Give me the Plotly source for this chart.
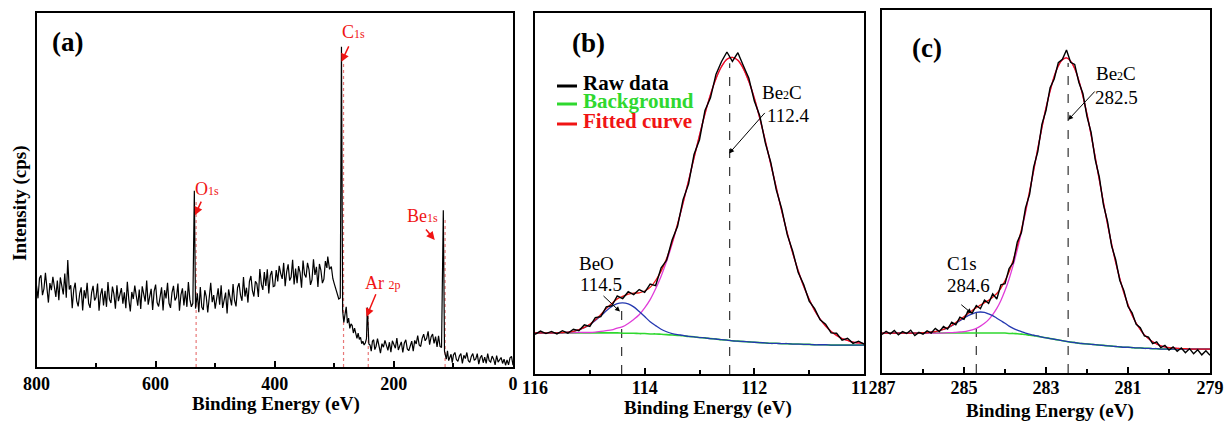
import plotly.graph_objects as go

FONT = "Liberation Serif"

# ---------------- Panel (a): survey spectrum (binding energy, intensity) ----------------
survey_a = [
    (800, 23.0), (797.5, 19.4), (795, 25.1), (792.5, 25.9), (790, 20.3), (787.5, 22.1), (785, 26.6),
    (782.5, 21.5), (780, 18.2), (777.5, 23.7), (775, 21.7), (772.5, 25.5), (770, 22.7), (767.5, 19.8),
    (765, 24.4), (762.5, 18.9), (760, 25.3), (757.5, 22.9), (755, 20.5), (752.5, 26.4), (750, 19.6),
    (747.5, 30.2), (745, 21.9), (742.5, 23.1), (740, 16.6), (737.5, 21.9), (735, 23.8), (732.5, 18.7),
    (730, 17.1), (727.5, 20.7), (725, 22.5), (722.5, 16.0), (720, 21.7), (717.5, 19.4), (715, 23.8),
    (712.5, 18.0), (710, 16.7), (707.5, 21.0), (705, 22.9), (702.5, 18.8), (700, 19.7), (697.5, 23.6),
    (695, 15.9), (692.5, 20.4), (690, 22.2), (687.5, 17.4), (685, 21.5), (682.5, 17.0), (680, 24.0),
    (677.5, 19.1), (675, 18.1), (672.5, 22.7), (670, 20.6), (667.5, 16.5), (665, 23.1), (662.5, 18.6),
    (660, 20.1), (657.5, 22.3), (655, 17.9), (652.5, 21.1), (650, 16.6), (647.5, 24.1), (645, 19.0),
    (642.5, 15.7), (640, 21.2), (637.5, 19.2), (635, 23.0), (632.5, 20.2), (630, 17.3), (627.5, 21.9),
    (625, 16.4), (622.5, 22.8), (620, 20.9), (617.5, 18.5), (615, 24.4), (612.5, 17.6), (610, 19.9),
    (607.5, 22.1), (605, 16.1), (602.5, 21.4), (600, 23.3), (597.5, 18.2), (595, 17.1), (592.5, 20.7),
    (590, 22.5), (587.5, 16.0), (585, 21.7), (582.5, 19.4), (580, 23.8), (577.5, 18.0), (575, 16.7),
    (572.5, 21.0), (570, 22.9), (567.5, 18.8), (565, 19.7), (562.5, 23.6), (560, 15.9), (557.5, 20.4),
    (555, 22.2), (552.5, 17.4), (550, 21.5), (547.5, 17.0), (545, 24.0), (542.5, 19.1), (540, 17.0),
    (537.5, 18.0), (535, 49.8), (533, 16.5), (530, 20.8), (527.5, 15.5), (525, 22.6), (522.5, 16.9),
    (520, 16.1), (517.5, 21.7), (515, 19.9), (512.5, 15.4), (510, 20.5), (507.5, 23.8), (505, 18.3),
    (502.5, 20.3), (500, 16.5), (497.5, 19.3), (495, 22.2), (492.5, 17.6), (490, 23.1), (487.5, 16.7),
    (485, 18.6), (482.5, 21.0), (480, 15.1), (477.5, 21.9), (475, 19.6), (472.5, 17.4), (470, 23.4),
    (467.5, 18.8), (465, 17.1), (462.5, 22.4), (460, 23.7), (457.5, 20.3), (455, 18.7), (452.5, 25.4),
    (450, 19.9), (447.5, 22.4), (445, 18.2), (442.5, 24.2), (440, 25.7), (437.5, 21.6), (435, 19.9),
    (432.5, 24.2), (430, 23.5), (427.5, 19.8), (425, 27.7), (422.5, 23.4), (420, 21.8), (417.5, 26.8),
    (415, 22.9), (412.5, 27.6), (410, 20.8), (407.5, 25.9), (405, 27.1), (402.5, 22.7), (400, 22.9),
    (397.5, 27.4), (395, 24.2), (392.5, 28.6), (390, 26.4), (387.5, 24.9), (385, 29.4), (382.5, 22.8),
    (380, 26.9), (377.5, 29.0), (375, 24.4), (372.5, 25.4), (370, 30.3), (367.5, 23.3), (365, 27.8),
    (362.5, 23.7), (360, 28.5), (357.5, 26.7), (355, 22.4), (352.5, 30.1), (350, 26.2), (347.5, 25.3),
    (345, 29.4), (342.5, 27.5), (340, 23.2), (337.5, 24.6), (335, 30.4), (332.5, 26.0), (330, 28.3),
    (327.5, 22.6), (325, 29.1), (322.5, 27.3), (320, 23.7), (317.5, 24.8), (315, 29.9), (312.5, 28.0),
    (311, 31.2), (308, 27.6), (305, 28.4), (302.5, 25.0), (300, 23.5), (297.5, 21.9), (295, 21.0),
    (292.5, 19.2), (290, 19.5), (288, 90.5), (286, 15.8), (284, 12.6), (282, 14.9), (280, 17.0),
    (278, 12.4), (276, 13.8), (274, 10.9), (272, 12.2), (270, 11.7), (268, 9.6), (266, 11.0),
    (264, 9.2), (262, 8.1), (260, 9.6), (258, 7.8), (256, 8.4), (254, 6.6), (252, 7.3), (250, 6.2),
    (248, 6.8), (246, 8.0), (244.5, 16.8), (243, 8.5), (242, 6.5), (240, 6.2), (238, 4.5), (236, 7.3),
    (234, 7.7), (232, 4.9), (230, 5.8), (227.5, 8.0), (225, 5.5), (222.5, 3.9), (220, 6.6),
    (217.5, 5.6), (215, 7.5), (212.5, 6.1), (210, 4.7), (207.5, 7.0), (205, 4.2), (202.5, 7.4),
    (200, 6.5), (197.5, 5.3), (195, 8.2), (192.5, 4.8), (190, 6.0), (187.5, 7.1), (185, 4.1),
    (182.5, 6.7), (180, 7.7), (177.5, 5.1), (175, 4.6), (172.5, 6.4), (170, 7.3), (167.5, 4.5),
    (165, 7.5), (162.5, 6.5), (160, 8.9), (157.5, 6.2), (155, 5.8), (152.5, 8.1), (150, 9.3),
    (147.5, 7.4), (145, 8.1), (142.5, 10.1), (140, 6.3), (137.5, 8.5), (135, 9.3), (132.5, 6.7),
    (130, 8.6), (127.5, 5.7), (125, 8.8), (122.5, 5.8), (120, 5.5), (117, 44.3), (115, 4.5),
    (112, 2.2), (110, 4.6), (108, 1.8), (106, 2.8), (104, 3.6), (102, 1.2), (100, 3.4), (97.5, 4.1),
    (95, 2.1), (92.5, 1.6), (90, 3.1), (87.5, 3.8), (85, 1.0), (82.5, 3.3), (80, 2.4), (77.5, 4.1),
    (75, 1.8), (72.5, 1.3), (70, 3.0), (67.5, 3.8), (65, 1.9), (62.5, 2.3), (60, 3.8), (57.5, 0.8),
    (55, 2.6), (52.5, 3.3), (50, 1.2), (47.5, 2.8), (45, 1.0), (42.5, 3.8), (40, 1.8), (37.5, 1.4),
    (35, 3.1), (32.5, 2.2), (30, 0.6), (27.5, 3.2), (25, 1.4), (22.5, 2.0), (20, 2.7), (17.5, 1.0),
    (15, 2.2), (12.5, 0.5), (10, 2.0), (7.5, 0.6), (5, 2.6), (2.5, 3.0), (0, 0.5),
]
be_a = [p[0] for p in survey_a]
int_a = [p[1] for p in survey_a]

# red dotted reference lines at the assigned peaks
peak_be_a = [532, 284.5, 243, 114]
peak_top_a = [47, 86, 15, 42]

# ---------------- Panel (b): Be 1s high resolution ----------------
be_b = [round(116.0 - 0.1 * i, 1) for i in range(61)]
bg_b = [11.4, 11.4, 11.4, 11.4, 11.4, 11.4, 11.4, 11.4, 11.4, 11.4, 11.4, 11.4, 11.4, 11.4, 11.4, 11.4,
        11.3, 11.3, 11.3, 11.2, 11.2, 11.1, 11.1, 11.0, 10.9, 10.8, 10.7, 10.6, 10.4, 10.3, 10.1,
        10.0, 9.8, 9.7, 9.5, 9.4, 9.2, 9.1, 9.0, 8.9, 8.8, 8.7, 8.6, 8.5, 8.5, 8.4, 8.4, 8.3, 8.3,
        8.2, 8.2, 8.1, 8.1, 8.1, 8.0, 8.0, 8.0, 8.0, 8.0, 8.0, 8.0]
be2c_b = [0, 0, 0, 0, 0, 0, 0, 0,
          0.1, 0.1, 0.1, 0.2, 0.4, 0.6, 0.8, 1.3, 1.8, 2.7, 3.8, 5.2, 7.1, 9.5, 12.5, 16.1, 20.3,
          25.2, 30.7, 36.7, 43.1, 49.6, 56.0, 62.1, 67.6, 72.1, 75.6, 77.8, 78.5, 77.8, 75.6, 72.1,
          67.6, 62.1, 56.0, 49.6, 43.1, 36.7, 30.7, 25.2, 20.3, 16.1, 12.5, 9.5, 7.1, 5.2, 3.8, 2.7,
          1.8, 1.3, 0.8, 0.6, 0.4]
beo_b = [0, 0, 0, 0, 0,
         0.1, 0.2, 0.4, 0.8, 1.4, 2.3, 3.4, 4.7, 6.1, 7.3, 8.1, 8.4, 8.1, 7.3, 6.1, 4.7, 3.4, 2.3,
         1.4, 0.8, 0.4, 0.2, 0.1,
         0, 0, 0, 0, 0, 0, 0, 0, 0, 0, 0, 0, 0, 0, 0, 0, 0, 0, 0, 0, 0, 0, 0, 0, 0, 0, 0, 0, 0, 0,
         0, 0, 0]
raw_b = [11.0, 11.9, 11.2, 11.8, 11.1, 12.0, 11.3, 12.4, 12.0, 13.6, 13.2, 15.6, 15.9, 18.6, 18.9,
         21.6, 20.9, 22.8, 22.0, 23.4, 22.6, 24.9, 24.5, 29.4, 31.5, 37.1, 40.9, 48.3, 52.6, 60.8,
         64.9, 73.0, 76.5, 83.0, 86.5, 89.2, 86.6, 89.0, 85.4, 81.9, 75.6, 71.5, 64.0, 58.6, 51.0,
         45.7, 38.6, 34.0, 28.1, 24.8, 20.2, 18.1, 15.0, 13.8, 11.4, 11.3, 9.4, 9.9, 8.5, 9.1, 8.3]
dash_be_b = [114.42, 112.45]
dash_top_b = [19.7, 86.1]
ticks_b = [116, 114, 112, 110]
ticklabels_b = ["116", "114", "112", "11\u2007"]   # the "110" label is cut by panel (c) in the original

# ---------------- Panel (c): C 1s high resolution ----------------
be_c = [round(287.0 - 0.1 * i, 1) for i in range(81)]
bg_c = [11.0] * 31 + [10.9, 10.9, 10.8, 10.7, 10.6, 10.4, 10.3, 10.1, 9.9, 9.7, 9.5, 9.3, 9.1, 8.9,
                      8.7, 8.5, 8.4, 8.2, 8.1, 8.0, 7.9, 7.8, 7.7, 7.6, 7.5, 7.4, 7.3, 7.2, 7.1,
                      7.1, 7.0, 6.9, 6.9, 6.8, 6.8, 6.7, 6.7, 6.6, 6.6] + [6.6] * 11
be2c_c = [0, 0, 0, 0, 0, 0, 0, 0, 0, 0, 0, 0, 0, 0, 0,
          0, 0.1, 0.1, 0.2, 0.3, 0.4, 0.6, 0.9, 1.3, 1.9, 2.7, 3.7, 5.1, 6.8, 9.0, 11.7, 15.0, 18.8,
          23.2, 28.1, 33.6, 39.4, 45.5, 51.7, 57.7, 63.3, 68.2, 72.4, 75.5, 77.4, 78.1, 77.4, 75.5,
          72.4, 68.2, 63.3, 57.7, 51.7, 45.5, 39.4, 33.6, 28.1, 23.2, 18.8, 15.0, 11.7, 9.0, 6.8,
          5.1, 3.7, 2.7, 1.9, 1.3, 0.9, 0.6, 0.4, 0.3, 0.2, 0.1, 0.1,
          0, 0, 0, 0, 0, 0]
c1s_c = [0, 0, 0, 0, 0, 0, 0, 0, 0, 0,
         0.1, 0.1, 0.3, 0.4, 0.7, 1.0, 1.4, 2.0, 2.7, 3.4, 4.1, 4.8, 5.3, 5.7, 5.8, 5.7, 5.3, 4.8,
         4.1, 3.4, 2.7, 2.0, 1.4, 1.0, 0.7, 0.4, 0.3, 0.1, 0.1] + [0] * 42
raw_c = [10.6, 11.5, 10.8, 11.7, 10.5, 11.4, 10.9, 11.8, 10.3, 11.2, 10.7, 11.6, 11.0, 12.3, 11.4,
         12.8, 12.1, 14.0, 13.3, 15.4, 14.8, 17.1, 16.5, 18.6, 17.7, 20.1, 19.2, 21.8, 20.4, 24.3,
         24.6, 28.8, 30.4, 36.1, 38.7, 45.5, 49.2, 56.8, 61.0, 68.5, 72.3, 78.6, 81.0, 85.5, 86.4,
         89.0, 85.6, 85.0, 80.1, 77.0, 70.6, 66.3, 58.8, 54.0, 46.4, 41.8, 35.0, 31.2, 25.5, 22.7,
         18.3, 16.6, 13.4, 12.5, 10.2, 9.9, 8.1, 8.6, 7.0, 7.6, 6.3, 7.2, 6.0, 6.9, 5.6, 6.7, 5.3,
         6.4, 5.0, 6.1, 4.9]
dash_be_c = [284.7, 282.46]
dash_top_c = [16.5, 85.4]

# ---------------- colours ----------------
GREEN = "#2fd82f"
RED = "#f01414"
MAGENTA = "#e03cd8"
BLUE = "#2438b0"
DOTRED = "#e87878"

fig = go.Figure()

# panel (a)
for bx, top in zip(peak_be_a, peak_top_a):
    fig.add_trace(go.Scatter(x=[bx, bx], y=[0, top], mode="lines",
                             line=dict(color=DOTRED, width=1.2, dash="dot"),
                             xaxis="x", yaxis="y", showlegend=False, hoverinfo="skip"))
fig.add_trace(go.Scatter(x=be_a, y=int_a, mode="lines", line=dict(color="black", width=1.2),
                         xaxis="x", yaxis="y", showlegend=False))


def add_fit_panel(be, bg, comp_main, comp_small, raw, dash_be, dash_top, xa, ya):
    magenta = [b + m for b, m in zip(bg, comp_main)]
    blue = [b + s for b, s in zip(bg, comp_small)]
    fit = [b + m + s for b, m, s in zip(bg, comp_main, comp_small)]
    for bx, top in zip(dash_be, dash_top):
        fig.add_trace(go.Scatter(x=[bx, bx], y=[0, top], mode="lines",
                                 line=dict(color="#333333", width=1.2, dash="dash"),
                                 xaxis=xa, yaxis=ya, showlegend=False, hoverinfo="skip"))
    fig.add_trace(go.Scatter(x=be, y=bg, mode="lines", line=dict(color=GREEN, width=1.6, shape="spline"),
                             xaxis=xa, yaxis=ya, showlegend=False))
    fig.add_trace(go.Scatter(x=be, y=magenta, mode="lines", line=dict(color=MAGENTA, width=1.3, shape="spline"),
                             xaxis=xa, yaxis=ya, showlegend=False))
    fig.add_trace(go.Scatter(x=be, y=blue, mode="lines", line=dict(color=BLUE, width=1.3, shape="spline"),
                             xaxis=xa, yaxis=ya, showlegend=False))
    fig.add_trace(go.Scatter(x=be, y=fit, mode="lines", line=dict(color=RED, width=1.3, shape="spline"),
                             xaxis=xa, yaxis=ya, showlegend=False))
    fig.add_trace(go.Scatter(x=be, y=raw, mode="lines", line=dict(color="black", width=1.4),
                             xaxis=xa, yaxis=ya, showlegend=False))


add_fit_panel(be_b, bg_b, be2c_b, beo_b, raw_b, dash_be_b, dash_top_b, "x2", "y2")
add_fit_panel(be_c, bg_c, be2c_c, c1s_c, raw_c, dash_be_c, dash_top_c, "x3", "y3")

W, H = 1225, 421
tickfont = dict(family=FONT, size=18, color="black", weight="bold")


def xax(domain, rng, dtick, standoff=0, tick0=0, ticktext=None, tickvals=None):
    d = dict(domain=domain, range=rng, showline=True, linecolor="black", linewidth=2, mirror=True,
             ticks="inside", ticklen=6, tickwidth=1.5, tickcolor="black", dtick=dtick, tick0=tick0,
             showgrid=False, zeroline=False, tickfont=tickfont, automargin=False,
             ticklabelstandoff=standoff,
             minor=dict(ticks="inside", ticklen=4, tickwidth=1.5, tickcolor="black", dtick=dtick / 2,
                        tick0=tick0, showgrid=False))
    if tickvals is not None:
        d["tickmode"] = "array"
        d["tickvals"] = tickvals
        d["ticktext"] = ticktext
    return d


def yax(domain, anchor):
    return dict(domain=domain, range=[0, 100], showline=True, linecolor="black", linewidth=2, mirror=True,
                ticks="", showticklabels=False, showgrid=False, zeroline=False, anchor=anchor,
                automargin=False)


fig.update_layout(
    template="none",
    width=W, height=H, margin=dict(l=0, r=0, t=0, b=0, autoexpand=False),
    paper_bgcolor="white", plot_bgcolor="white", showlegend=False,
    xaxis=dict(**xax([36.5 / W, 513 / W], [800, 0], 200, standoff=-1), anchor="y"),
    yaxis=yax([(H - 367) / H, (H - 13) / H], "x"),
    xaxis2=dict(**xax([535 / W, 864 / W], [116, 110], 2, standoff=-4, tickvals=ticks_b,
                      ticktext=ticklabels_b), anchor="y2"),
    yaxis2=yax([(H - 374) / H, (H - 13) / H], "x2"),
    xaxis3=dict(**xax([882 / W, 1210 / W], [287, 279], 2, standoff=-3, tick0=279), anchor="y3"),
    yaxis3=yax([(H - 373) / H, (H - 10) / H], "x3"),
)

ann = []


def txt(x, y, text, size=19, color="black", xref="x", yref="y", bold=False, xanchor="center", angle=0):
    ann.append(dict(x=x, y=y, xref=xref, yref=yref, text=text, showarrow=False, xanchor=xanchor,
                    yanchor="middle", textangle=angle,
                    font=dict(family=FONT, size=size, color=color, weight="bold" if bold else "normal")))


def arrow(x, y, ax, ay, color="black", xref="x", yref="y", width=1.0, size=1.0):
    ann.append(dict(x=x, y=y, xref=xref, yref=yref, text="", showarrow=True, ax=ax, ay=ay,
                    arrowhead=2, arrowsize=size, arrowwidth=width, arrowcolor=color, standoff=0))


SMALL = '<span style="font-size:12px">%s</span>'

# panel (a) labels
txt(748.8, 91.8, "(a)", size=27, bold=True)
txt(267.3, 94.6, "C" + SMALL % "1s", size=18, color=RED)
arrow(288, 86.2, 8, -17, color=RED, width=1.5, size=1.1)
txt(514, 50.3, "O" + SMALL % "1s", size=18, color=RED)
arrow(534, 42.9, 7, -15, color=RED, width=1.5, size=1.1)
txt(218.6, 23.7, "Ar " + SMALL % "2p", size=18, color=RED)
arrow(246, 14.2, 10, -24, color=RED, width=1.5, size=1.1)
txt(151.5, 42.7, "Be" + SMALL % "1s", size=18, color=RED)
arrow(131.4, 35.9, -10, -12, color=RED, width=1.5, size=1.1)

# panel (b) labels
txt(115.03, 91.8, "(b)", size=27, bold=True, xref="x2", yref="y2")
txt(111.5, 78.1, "Be" + SMALL % "2" + "C", size=19, xref="x2", yref="y2")
txt(111.37, 71.7, "112.4", size=19, xref="x2", yref="y2")
arrow(112.46, 61.1, 37, -42, xref="x2", yref="y2")
txt(114.87, 30.7, "BeO", size=19, xref="x2", yref="y2")
txt(114.80, 24.7, "114.5", size=19, xref="x2", yref="y2")
arrow(114.45, 17.3, -18, -17, xref="x2", yref="y2")

# panel (c) labels
txt(285.9, 89.5, "(c)", size=27, bold=True, xref="x3", yref="y3")
txt(281.29, 82.6, "Be" + SMALL % "2" + "C", size=19, xref="x3", yref="y3")
txt(281.29, 76.0, "282.5", size=19, xref="x3", yref="y3")
arrow(282.46, 69.7, 28, -30, xref="x3", yref="y3")
txt(285.05, 30.3, "C1s", size=19, xref="x3", yref="y3")
txt(284.88, 24.0, "284.6", size=19, xref="x3", yref="y3")
arrow(284.81, 16.4, -12, -10, xref="x3", yref="y3")

# legend (panel b)
legend_items = [("Raw data", "black", 86), ("Background", GREEN, 104), ("Fitted curve", RED, 124)]
shapes = []
for label, col, ypx in legend_items:
    shapes.append(dict(type="line", xref="paper", yref="paper", x0=557 / W, x1=577 / W,
                       y0=1 - ypx / H, y1=1 - ypx / H, line=dict(color=col, width=3)))
    txt(581 / W, 1 - (ypx - 3) / H, label, size=21, color=col, xref="paper", yref="paper", bold=True,
        xanchor="left")

# axis titles
txt(276 / W, 1 - 403.5 / H, "Binding Energy (eV)", size=19, bold=True, xref="paper", yref="paper")
txt(708 / W, 1 - 408 / H, "Binding Energy (eV)", size=19, bold=True, xref="paper", yref="paper")
txt(1050 / W, 1 - 411 / H, "Binding Energy (eV)", size=19, bold=True, xref="paper", yref="paper")
txt(20 / W, 1 - 203 / H, "Intensity (cps)", size=19, bold=True, xref="paper", yref="paper", angle=-90)

fig.update_layout(annotations=ann, shapes=shapes)
fig.write_html("out.html", config={"displayModeBar": False},
               post_script="document.body.style.margin='0';document.body.style.overflow='hidden';")
